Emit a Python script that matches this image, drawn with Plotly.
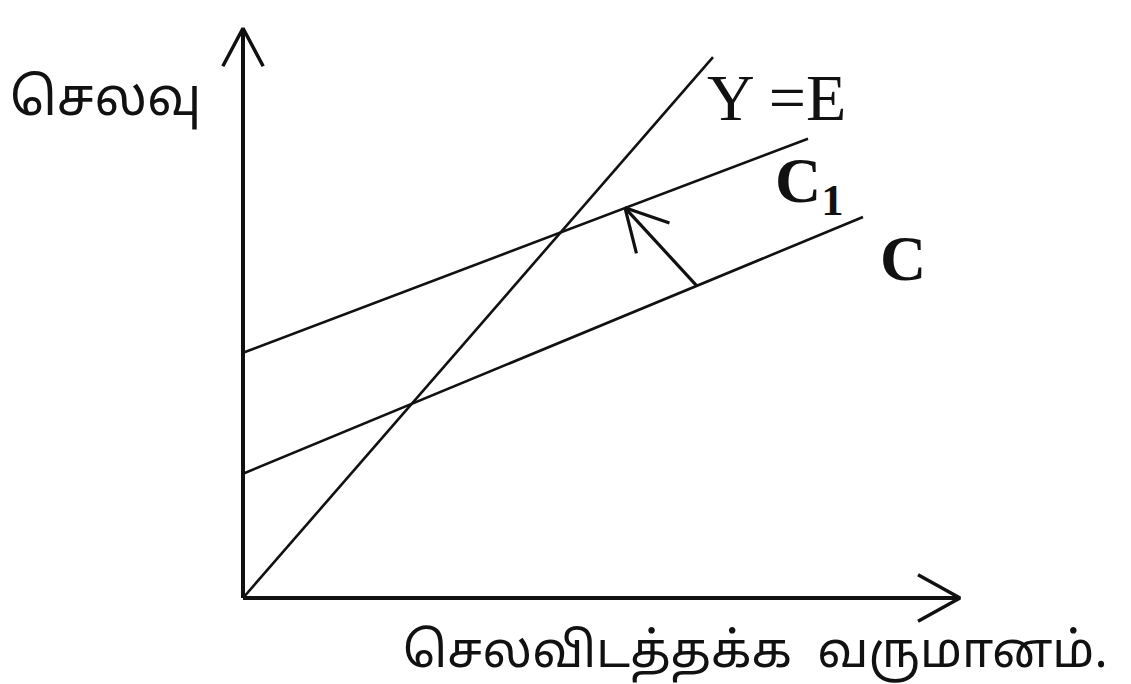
import math
import plotly.graph_objects as go

# 45-degree line Y = E (disposable income vs. spending)
ye_income = [0, 47]
ye_spend = [0, 47]

# consumption function C and the shifted one C1
c_income = [0, 62]
c_spend = [10.8, 33.1]
c1_income = [0, 56.5]
c1_spend = [21.3, 39.9]

# arrow showing the shift from C up to C1 (tail, head)
shift_income = [45.4, 38.2]
shift_spend = [27.1, 33.9]

# axis ends
x_axis_end = 71.7
y_axis_end = 49.5

y_title = "செலவு"
x_title = "செலவிடத்தக்க\u00a0\u00a0வருமானம்."

# pixels per data unit (plot area fills the whole page)
PX_X = 10.0
PX_Y = 11.51
W, H = 1131, 684
ORIGIN_PX = (243, 598)

INK = "#111111"
TAMIL = "Noto Sans Tamil, Lohit Tamil, Noto Sans, sans-serif"
SERIF = "Liberation Serif, Times New Roman, serif"


def chevron(tail, tip, size, spread):
    # open "V" arrow head, built in pixel space then mapped back to data units
    ang = math.atan2((tip[1] - tail[1]) * PX_Y, (tip[0] - tail[0]) * PX_X)
    xs, ys = [], []
    for s in (1, 0, -1):
        if s == 0:
            xs.append(tip[0])
            ys.append(tip[1])
            continue
        a = ang + math.pi + s * math.radians(spread)
        xs.append(tip[0] + size * math.cos(a) / PX_X)
        ys.append(tip[1] + size * math.sin(a) / PX_Y)
    return xs, ys


fig = go.Figure()


def add_line(xs, ys, width):
    fig.add_trace(go.Scatter(x=xs, y=ys, mode="lines",
                             line=dict(color=INK, width=width),
                             hoverinfo="skip", showlegend=False))


# axes
add_line([0, 0], [0, y_axis_end], 4)
add_line([0, x_axis_end], [0, 0], 4)
add_line(*chevron((0, 0), (0, y_axis_end), 43, 28), 3.5)
add_line(*chevron((0, 0), (x_axis_end, 0), 48, 29), 3.5)

# curves
add_line(ye_income, ye_spend, 2.6)
add_line(c1_income, c1_spend, 2.6)
add_line(c_income, c_spend, 2.6)

# shift arrow
add_line(shift_income, shift_spend, 3.2)
add_line(*chevron((shift_income[0], shift_spend[0]),
                  (shift_income[1], shift_spend[1]), 47, 28.5), 3.2)


def label(x, y, text, font, size, bold=False):
    fig.add_annotation(x=x, y=y, text=f"<b>{text}</b>" if bold else text,
                       showarrow=False, xanchor="left", yanchor="middle",
                       font=dict(family=font, size=size, color=INK))


label(46.2, 43.5, "Y =E", SERIF, 66)
label(53.0, 35.9, "C<sub>1</sub>", SERIF, 64, bold=True)
label(63.5, 29.5, "C", SERIF, 64, bold=True)
label(-23.5, 43.1, y_title, TAMIL, 52)
label(15.8, -4.95, x_title, TAMIL, 49)

x_lo = -ORIGIN_PX[0] / PX_X
x_hi = (W - ORIGIN_PX[0]) / PX_X
y_hi = ORIGIN_PX[1] / PX_Y
y_lo = -(H - ORIGIN_PX[1]) / PX_Y

fig.update_layout(
    width=W, height=H,
    margin=dict(l=0, r=0, t=0, b=0),
    paper_bgcolor="white", plot_bgcolor="white",
    xaxis=dict(range=[x_lo, x_hi], visible=False, fixedrange=True),
    yaxis=dict(range=[y_lo, y_hi], visible=False, fixedrange=True),
)

fig.write_html("out.html", config={"displayModeBar": False},
               post_script="document.body.style.margin='0';")
